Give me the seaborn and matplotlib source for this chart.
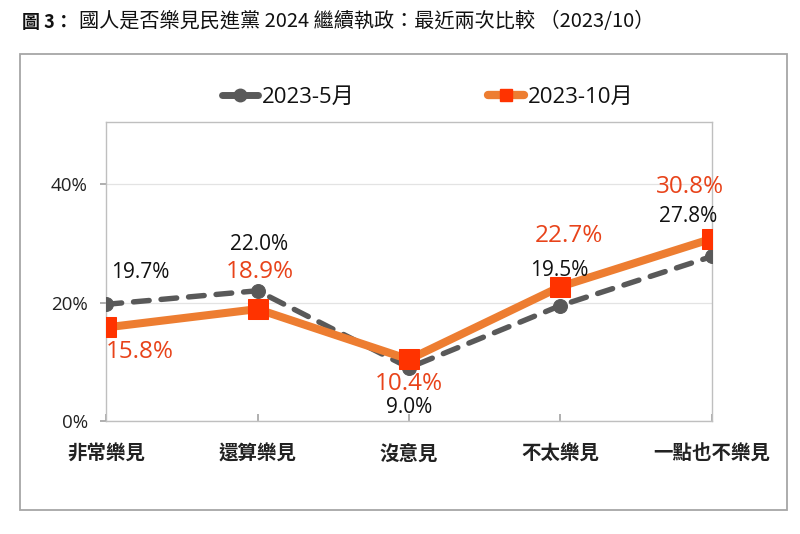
import matplotlib
matplotlib.use("Agg")
import matplotlib.pyplot as plt
import seaborn as sns
import pandas as pd
from matplotlib.patches import Rectangle
from matplotlib.lines import Line2D

categories = ["非常樂見", "還算樂見", "沒意見", "不太樂見", "一點也不樂見"]
may_values = [19.7, 22.0, 9.0, 19.5, 27.8]
oct_values = [15.8, 18.9, 10.4, 22.7, 30.8]
series_names = ["2023-5月", "2023-10月"]
y_ticks = [0, 20, 40]
title_bold = "圖 3："
title_rest = "國人是否樂見民進黨 2024 繼續執政：最近兩次比較 （2023/10）"

sns.set_theme(style="white")
plt.rcParams['font.family'] = ['Noto Sans CJK TC', 'DejaVu Sans']
num_font = ['Open Sans', 'Noto Sans CJK TC']

fig = plt.figure(figsize=(8, 5.34), dpi=100)
ax = fig.add_axes([106/800, 1-421/534, (712-106)/800, (421-122)/534])

gray = "#595959"
orange_line = "#ED7D31"
orange_mark = "#FF3300"
orange_text = "#E8431A"

df_may = pd.DataFrame({"cat": categories, "val": may_values})
df_oct = pd.DataFrame({"cat": categories, "val": oct_values})

sns.lineplot(data=df_may, x="cat", y="val", sort=False, ax=ax, color=gray,
             linewidth=3.9, linestyle=(0, (2.9, 2.2)), dash_capstyle="round",
             marker="o", markersize=10,
             markerfacecolor=gray, markeredgecolor=gray, zorder=3)
sns.lineplot(data=df_oct, x="cat", y="val", sort=False, ax=ax, color=orange_line,
             linewidth=5.8, marker="s", markersize=14,
             markerfacecolor=orange_mark, markeredgecolor=orange_mark, zorder=4)

ax.set_xlim(0, len(categories) - 1)
ax.set_ylim(0, 50.5)
ax.set_yticks(y_ticks)
ax.set_yticklabels([f"{t}%" for t in y_ticks], fontsize=13.5, color="#222222", family=num_font)
ax.set_xticks(range(len(categories)))
ax.set_xticklabels(categories, fontsize=14, fontweight="bold", color="#222222")
ax.set_xlabel("")
ax.set_ylabel("")
ax.tick_params(axis="x", direction="in", length=5, pad=17, color="#A6A6A6", bottom=True)
ax.tick_params(axis="y", direction="out", length=4, pad=9, color="#A6A6A6", left=True)
for s in ax.spines.values():
    s.set_color("#BFBFBF")
    s.set_linewidth(1.0)
ax.grid(axis="y", color="#E3E3E3", linewidth=0.9)
ax.set_axisbelow(True)

px = 0.72
may_offsets = [(34, 32), (2, 46), (0, -40), (-1, 35), (-24, 40)]
oct_offsets = [(34, -25), (2, 37), (0, -25), (8, 51), (-22, 52)]
for i, (v, off) in enumerate(zip(may_values, may_offsets)):
    ax.annotate(f"{v:.1f}%", (i, v), xytext=(off[0]*px, off[1]*px), textcoords="offset points",
                ha="center", va="center", fontsize=15, color="#111111", zorder=6, family=num_font)
for i, (v, off) in enumerate(zip(oct_values, oct_offsets)):
    ax.annotate(f"{v:.1f}%", (i, v), xytext=(off[0]*px, off[1]*px), textcoords="offset points",
                ha="center", va="center", fontsize=17.5, color=orange_text, zorder=6, family=num_font)

handles = [
    Line2D([], [], color=gray, linewidth=5, marker="o", markersize=9,
           markerfacecolor=gray, markeredgecolor=gray),
    Line2D([], [], color=orange_line, linewidth=6, marker="s", markersize=9,
           markerfacecolor=orange_mark, markeredgecolor=orange_mark),
]
leg = fig.legend(handles, series_names, loc="center", bbox_to_anchor=(428/800, 1-97/534),
                 ncol=2, frameon=False, handlelength=1.6, handletextpad=0.2,
                 columnspacing=6.0, prop={'family': num_font, 'size': 16})
for txt in leg.get_texts():
    txt.set_color("#111111")

fig.patches.append(Rectangle((20/800, 1-510/534), (787-20)/800, (510-54)/534,
                             transform=fig.transFigure, fill=False,
                             edgecolor="#A6A6A6", linewidth=1.3))

fig.text(22/800, 1-22/534, title_bold, fontsize=13, fontweight="bold", va="center", ha="left", color="#111111")
fig.text(79/800, 1-22/534, title_rest, fontsize=14.5, va="center", ha="left", color="#111111")

fig.savefig("out.png", dpi=100)
